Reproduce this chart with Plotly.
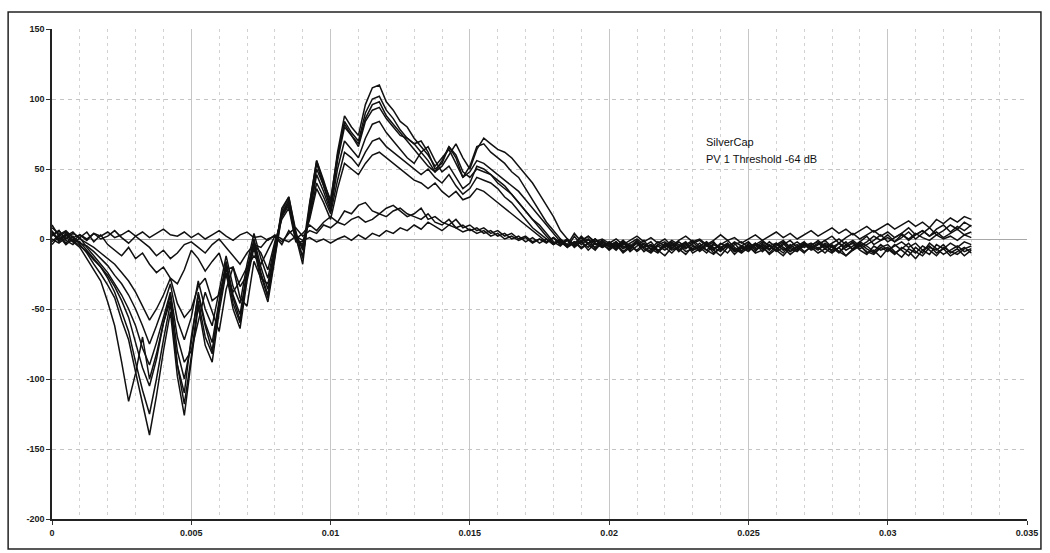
import numpy as np
import plotly.graph_objects as go

# Sample interval of the recorded responses (s)
dt = 0.00025

# Responses above threshold (large group)
resp_1 = [8, 4, -3, 2, -4, -10, -18, -25, -33, -42,
          -58, -72, -95, -118, -140, -112, -80, -52, -98, -126,
          -88, -48, -76, -88, -52, -24, -50, -64, -30, -6,
          -30, -45, -14, 18, 28, 2, -18, 25, 56, 42,
          26, 62, 88, 80, 74, 96, 108, 110, 98, 92,
          84, 80, 72, 66, 60, 52, 58, 64, 54, 44,
          48, 56, 54, 50, 46, 42, 38, 34, 28, 22,
          16, 10, 4, -2, -6, 2, -4, 0, -7, -3,
          -8, -4, -10, -6, -3, -9, -5, -8, -12, -6,
          -4, -9, -7, -3, -8, -11, -6, -4, -9, -7,
          -5, -10, -8, -4, -9, -6, -11, -7, -4, -8,
          -6, -10, -5, -9, -12, -7, -4, -10, -8, -13,
          -7, -11, -6, -9, -14, -8, -5, -10, -7, -12,
          -9, -6, -10]

resp_2 = [5, 0, 3, -2, -6, -14, -22, -30, -45, -62,
          -88, -116, -96, -70, -100, -82, -60, -44, -90, -110,
          -70, -40, -62, -80, -46, -18, -42, -58, -26, -2,
          -24, -40, -10, 22, 30, 6, -14, 22, 54, 38,
          22, 58, 84, 76, 70, 90, 100, 102, 92, 86,
          78, 72, 68, 70, 62, 50, 54, 66, 60, 48,
          44, 50, 48, 46, 40, 36, 32, 26, 20, 14,
          10, 4, -2, -5, 0, -6, -2, -8, -3, -6,
          -3, -7, -2, -9, -5, -1, -8, -4, -6, -10,
          -5, -2, -8, -6, -10, -4, -7, -3, -9, -6,
          -8, -3, -6, -10, -5, -2, -7, -9, -4, -6,
          -3, -7, -10, -6, -2, -8, -5, -9, -11, -6,
          -9, -4, -8, -12, -6, -10, -3, -7, -11, -8,
          -5, -9, -7]

resp_3 = [10, 2, -4, 0, -2, -8, -14, -20, -28, -38,
          -52, -66, -88, -108, -125, -100, -72, -46, -90, -118,
          -84, -44, -70, -82, -48, -20, -46, -60, -26, -4,
          -26, -42, -12, 16, 26, 0, -12, 20, 50, 38,
          24, 56, 80, 74, 68, 86, 96, 98, 88, 82,
          76, 70, 64, 58, 52, 48, 56, 66, 58, 44,
          52, 66, 68, 62, 58, 54, 48, 44, 36, 28,
          20, 12, 6, 0, -4, 4, -2, -6, 0, -5,
          -2, -6, -1, -5, -8, -3, -7, -10, -4, -8,
          -6, -3, -10, -7, -4, -8, -12, -6, -3, -9,
          -4, -8, -5, -11, -7, -3, -9, -6, -10, -5,
          -8, -4, -9, -6, -12, -8, -3, -7, -10, -6,
          -4, -9, -13, -7, -10, -5, -8, -12, -6, -9,
          -11, -7, -5]

resp_4 = [6, -2, 4, -1, -5, -9, -15, -20, -26, -34,
          -44, -56, -74, -92, -105, -86, -60, -40, -80, -100,
          -74, -38, -60, -74, -44, -16, -40, -54, -22, 0,
          -20, -36, -8, 20, 30, 4, -8, 26, 56, 40,
          28, 60, 82, 74, 66, 84, 92, 94, 86, 80,
          74, 72, 68, 62, 56, 48, 52, 60, 68, 58,
          50, 64, 72, 68, 64, 62, 58, 52, 46, 40,
          32, 24, 16, 6, 0, -4, 2, -3, -6, -1,
          -5, -2, -7, -4, -9, -5, -2, -8, -6, -3,
          -9, -5, -2, -7, -4, -10, -6, -3, -8, -5,
          -2, -7, -4, -8, -3, -6, -9, -5, -2, -7,
          -4, -1, -6, -3, -8, -5, -2, 2, -4, -1,
          3, -2, 1, 5, 0, 4, 8, 3, 6, 10,
          7, 12, 9]

resp_5 = [3, 6, -1, -4, 1, -6, -12, -18, -24, -32,
          -40, -50, -62, -78, -90, -74, -56, -38, -70, -88,
          -80, -60, -38, -52, -66, -36, -20, -42, -48, -16,
          -28, -32, -6, 18, 26, 2, -6, 18, 46, 34,
          20, 50, 70, 64, 58, 72, 82, 84, 76, 70,
          64, 58, 54, 62, 66, 56, 48, 52, 44, 36,
          40, 52, 50, 46, 42, 38, 32, 26, 20, 14,
          8, 2, -3, 0, -5, -2, -7, -3, 0, -6,
          -4, -8, -3, -6, -2, -7, -10, -5, -8, -4,
          -7, -11, -5, -8, -3, -6, -9, -4, -7, -10,
          -6, -3, -9, -5, -8, -12, -6, -4, -9, -6,
          -10, -7, -4, -9, -6, -3, -8, -11, -5, -8,
          -6, -10, -7, -3, -9, -12, -6, -8, -4, -10,
          -7, -12, -8]

resp_6 = [-2, 3, 6, 1, -3, -5, -9, -14, -19, -26,
          -32, -40, -50, -62, -75, -62, -48, -32, -58, -72,
          -56, -30, -50, -62, -38, -12, -34, -46, -18, 4,
          -14, -28, -4, 16, 24, 0, -4, 16, 40, 30,
          18, 42, 62, 58, 52, 62, 70, 72, 66, 62,
          58, 54, 50, 46, 50, 44, 40, 46, 38, 32,
          36, 44, 42, 40, 36, 30, 26, 20, 14, 8,
          4, 0, -4, -1, -6, -3, 1, -4, -8, -2,
          -6, -3, -9, -5, -1, -6, -4, -9, -3, -7,
          -2, -6, -4, -9, -5, -2, -8, -5, -11, -6,
          -9, -4, -7, -2, -6, -10, -4, -8, -5, -3,
          -7, -3, -6, -10, -4, -7, -2, -5, -9, -4,
          -8, -5, -2, -6, -3, -8, -11, -4, -7, -3,
          -6, -2, -4]

resp_7 = [4, -1, 2, 5, 0, -3, -6, -10, -14, -18,
          -24, -30, -38, -48, -58, -50, -40, -28, -46, -56,
          -50, -34, -28, -44, -40, -22, -20, -34, -26, -4,
          -10, -22, -2, 14, 22, -2, -2, 14, 36, 26,
          14, 36, 54, 50, 46, 54, 60, 62, 58, 54,
          50, 46, 42, 40, 36, 40, 34, 30, 34, 28,
          30, 36, 34, 30, 26, 22, 18, 14, 10, 6,
          2, -2, 1, -4, -1, -5, -2, 2, -3, -6,
          -2, -5, -1, -7, -3, -6, -9, -4, -2, -6,
          -8, -4, -1, -5, -8, -3, -6, -10, -4, -2,
          -6, -9, -3, -7, -4, -1, -6, -8, -3, -5,
          -1, -5, -8, -3, -6, -2, -7, -4, -1, 3,
          -2, 1, 4, -1, 3, 6, 2, 5, 1, 4,
          7, 3, 5]

# Responses near threshold (small group)
resp_8 = [2, 6, 0, 4, 1, 5, -2, 3, -4, -8,
          -12, -6, -14, -10, -18, -24, -20, -28, -32, -22,
          -8, -14, -23, -16, -10, -26, -38, -30, -20, -12,
          -18, -8, 2, -4, 6, 0, 4, 10, 6, 12,
          16, 12, 20, 18, 24, 26, 20, 18, 22, 24,
          20, 16, 18, 22, 14, 16, 12, 10, 14, 8,
          10, 6, 8, 4, 6, 2, 4, 0, 2, -2,
          0, -3, 1, -4, -1, -5, -2, 0, -4, -1,
          -5, -2, -6, -3, 0, -4, -7, -2, -5, -1,
          -4, -7, -3, -1, -5, -8, -3, -6, -2, -5,
          -7, -4, -1, -5, -3, -8, -5, -2, -6, -4,
          -2, -6, -3, 0, -4, -1, -5, -2, 2, -1,
          1, -2, 3, 0, 4, 1, -1, 3, 0, 2,
          -1, 3, 1]

resp_9 = [-4, 2, 5, 1, 3, -1, 4, 0, 2, 6,
          1, -3, 2, -2, -6, -12, -8, -14, -10, -4,
          -2, -6, -10, -4, 0, -6, -12, -18, -10, -4,
          -6, 0, 2, -2, 4, 8, 2, 6, 4, 10,
          8, 12, 10, 14, 16, 12, 14, 18, 16, 20,
          22, 18, 16, 14, 18, 12, 10, 14, 8, 10,
          6, 8, 4, 6, 2, 4, 0, 2, -2, 1,
          -3, 0, -4, -1, -5, -2, -6, -3, 0, -4,
          -7, -3, -5, -8, -2, -6, -4, -9, -5, -2,
          -6, -3, -8, -5, -2, -7, -4, -1, -6, -9,
          -3, -6, -2, -5, -8, -4, -1, -6, -3, -7,
          -4, -1, 2, -3, 1, 4, 0, 3, 6, 2,
          5, 1, 4, 8, 3, 6, 2, 7, 10, 5,
          9, 6, 10]

resp_10 = [0, -3, 1, -2, 3, 0, 4, 2, 5, 1,
           3, 6, 2, 5, 1, 4, 7, 3, 2, 5,
           1, 4, 0, 3, 6, 2, -1, 3, 5, 1,
           2, -1, 3, 0, -2, 2, -1, 1, -2, 0,
           -3, 0, 2, -1, 3, 0, 4, 2, 6, 4,
           8, 6, 10, 7, 12, 9, 6, 10, 8, 5,
           7, 4, 6, 2, 4, 0, 2, -1, 1, -3,
           0, -2, 1, -3, 0, -4, -1, 2, -2, 0,
           -3, 0, -4, -1, 2, -2, 1, -3, 0, -5,
           -1, 2, -2, 0, -4, -1, 3, -1, 1, -3,
           0, 3, -1, 2, 5, 1, 4, 0, 3, 6,
           2, 5, 8, 4, 7, 3, 6, 9, 5, 8,
           11, 7, 10, 13, 9, 12, 8, 14, 11, 15,
           12, 16, 14]

responses = [resp_1, resp_2, resp_3, resp_4, resp_5,
             resp_6, resp_7, resp_8, resp_9, resp_10]

# Axis ticks
x_ticks = [0, 0.005, 0.01, 0.015, 0.02, 0.025, 0.03, 0.035]
x_tick_labels = ["0", "0.005", "0.01", "0.015", "0.02", "0.025", "0.03", "0.035"]
y_ticks = [150, 100, 50, 0, -50, -100, -150, -200]
y_tick_labels = ["150", "100", "50", "0", "-50", "-100", "-150", "-200"]

legend_lines = ["SilverCap", "PV 1 Threshold -64 dB"]

fig = go.Figure()
for r in responses:
    t = np.arange(len(r)) * dt
    fig.add_trace(go.Scatter(
        x=t, y=r, mode="lines",
        line=dict(color="#111111", width=1.5),
        showlegend=False, hoverinfo="skip",
    ))

tick_font = dict(family="Liberation Sans, Arial, sans-serif", size=9,
                 color="#1a1a1a", weight="bold")

fig.update_xaxes(
    range=[0, 0.035], tickvals=x_ticks, ticktext=x_tick_labels,
    showline=True, linecolor="#222", linewidth=1.5,
    ticks="outside", ticklen=4, tickcolor="#333",
    showgrid=True, gridcolor="#c6c6c6", gridwidth=1,
    minor=dict(dtick=0.001, tick0=0, showgrid=True, gridcolor="#d2d2d2",
               griddash="3px,4px", gridwidth=1),
    zeroline=False, tickfont=tick_font,
)
fig.update_yaxes(
    range=[-200, 150], tickvals=y_ticks, ticktext=y_tick_labels,
    showline=True, linecolor="#222", linewidth=1.5,
    ticks="outside", ticklen=4, tickcolor="#333",
    showgrid=True, gridcolor="#c4c4c4", griddash="4px,4px", gridwidth=1,
    zeroline=True, zerolinecolor="#a8a8a8", zerolinewidth=1.2,
    tickfont=tick_font,
)

note_font = dict(family="Liberation Sans, Arial, sans-serif", size=11, color="#111")
fig.add_annotation(x=0.0234, y=69, xref="x", yref="y", text=legend_lines[0],
                   showarrow=False, xanchor="left", yanchor="middle", font=note_font)
fig.add_annotation(x=0.0234, y=57, xref="x", yref="y", text=legend_lines[1],
                   showarrow=False, xanchor="left", yanchor="middle", font=note_font)

# Outer frame of the chart
fig.add_shape(type="rect", xref="paper", yref="paper",
              x0=-0.045, x1=1.0143, y0=-0.061, y1=1.0347,
              line=dict(color="#222", width=1.5), fillcolor="rgba(0,0,0,0)")

fig.update_layout(
    width=1050, height=553,
    margin=dict(l=52, r=20, t=29, b=34),
    paper_bgcolor="white", plot_bgcolor="white",
)

fig.write_html("out.html")
